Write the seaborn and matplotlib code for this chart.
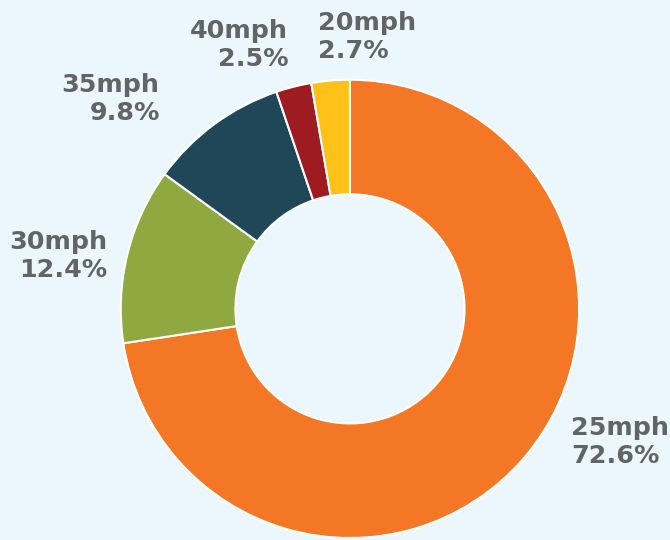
import matplotlib
matplotlib.use("Agg")
import matplotlib.pyplot as plt
import seaborn as sns

# speed limit share, clockwise from 12 o'clock
speeds = ["25mph", "30mph", "35mph", "40mph", "20mph"]
shares = [72.6, 12.4, 9.8, 2.5, 2.7]
colors = ["#F47726", "#8FA83F", "#1F4757", "#9E1B22", "#FDC117"]

# label anchors (axes data units, radius = 1) and alignment
label_pos = {
    "25mph": (0.965, -0.58, "left"),
    "30mph": (-1.06, 0.23, "right"),
    "35mph": (-0.83, 0.915, "right"),
    "40mph": (-0.27, 1.15, "right"),
    "20mph": (-0.14, 1.185, "left"),
}

sns.set_theme(style="white")
bg = "#EBF7FC"

fig = plt.figure(figsize=(6.7, 5.4), dpi=100, facecolor=bg)
ax = fig.add_axes([0, 0, 1, 1])
ax.set_facecolor(bg)

ax.pie(shares, colors=colors, startangle=90, counterclock=False,
       radius=1, wedgeprops=dict(width=0.5, edgecolor="white", linewidth=1.5))

for name, val in zip(speeds, shares):
    x, y, ha = label_pos[name]
    ax.text(x, y, f"{name}\n{val}%", ha=ha, va="center", fontsize=18.3,
            fontweight="bold", color="#636466", linespacing=1.2,
            family="DejaVu Sans")

ax.set_xlim(-350 / 230, 320 / 230)
ax.set_ylim(-232 / 230, 310 / 230)
ax.set_aspect("equal")
ax.axis("off")

fig.savefig("out.png", dpi=100, facecolor=bg)
